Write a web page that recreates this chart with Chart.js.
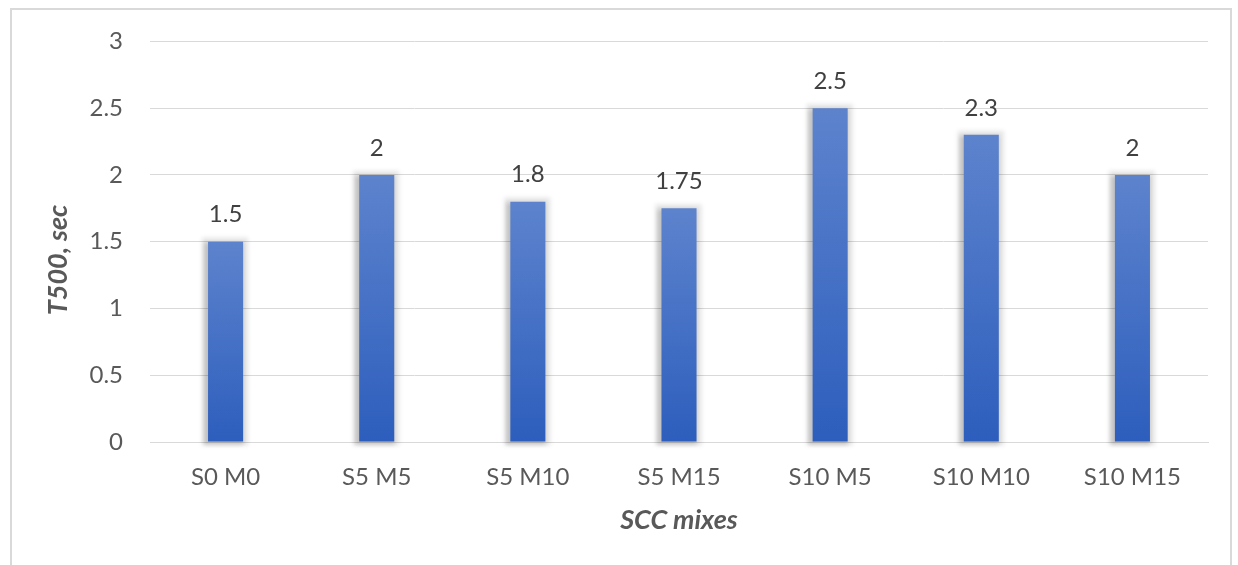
<!DOCTYPE html>
<html lang="en">
<head>
  <meta charset="utf-8" />
  <title>T500 of SCC mixes</title>
  <style>
html, body { margin: 0; padding: 0; background: #fff; }
#frame {
  position: absolute;
  left: 10px;
  top: 8px;
  width: 1222px;
  height: 600px;
  border: 2px solid #d9d9d9;
  box-sizing: border-box;
}
#chartContainer {
  position: absolute;
  left: 0;
  top: 0;
  width: 1238px;
  height: 565px;
}
  </style>
</head>
<body>
  <div id="frame"></div>
  <div id="chartContainer">
    <canvas id="myChart"></canvas>
  </div>
  <script src="https://cdn.jsdelivr.net/npm/chart.js"></script>
  <script>

const mixes = ['S0 M0', 'S5 M5', 'S5 M10', 'S5 M15', 'S10 M5', 'S10 M10', 'S10 M15'];
const t500 = [1.5, 2, 1.8, 1.75, 2.5, 2.3, 2];
const yTicks = [0, 0.5, 1, 1.5, 2, 2.5, 3];
const xTitle = 'SCC mixes';
const yTitle = 'T500, sec';

const FONT = 'Lato, "Open Sans", sans-serif';

// bar fill: lighter blue at the top of each bar, darker at its base
function barGradient(ctx) {
  const chart = ctx.chart;
  if (!chart.chartArea || ctx.raw === undefined) return '#4472c4';
  const ys = chart.scales.y;
  const top = ys.getPixelForValue(ctx.raw);
  const base = ys.getPixelForValue(0);
  const g = chart.ctx.createLinearGradient(0, top, 0, base);
  g.addColorStop(0, '#5d83cd');
  g.addColorStop(1, '#2d5ebd');
  return g;
}

// gray glow behind the bars, heavier on the left
const barShadow = {
  id: 'barShadow',
  beforeDatasetsDraw(chart) {
    const c = chart.ctx;
    const meta = chart.getDatasetMeta(0);
    c.save();
    c.filter = 'blur(2px)';
    meta.data.forEach(bar => {
      const w = bar.width;
      c.fillStyle = 'rgba(0,0,0,0.10)';
      c.fillRect(bar.x - w / 2 - 6, bar.y - 4, w + 11, bar.base - bar.y + 8);
      c.fillStyle = 'rgba(0,0,0,0.16)';
      c.fillRect(bar.x - w / 2 - 4, bar.y + 1, w + 4, bar.base - bar.y + 2);
    });
    c.restore();
  }
};

// value above each bar
const valueLabels = {
  id: 'valueLabels',
  afterDatasetsDraw(chart) {
    const c = chart.ctx;
    const meta = chart.getDatasetMeta(0);
    c.save();
    c.font = '24px ' + FONT;
    c.fillStyle = '#404040';
    c.textAlign = 'center';
    c.textBaseline = 'middle';
    meta.data.forEach((bar, i) => {
      c.fillText(String(t500[i]), bar.x, bar.y - 27);
    });
    c.restore();
  }
};

// axis titles, bold italic
const axisTitles = {
  id: 'axisTitles',
  afterDraw(chart) {
    const c = chart.ctx;
    const area = chart.chartArea;
    c.save();
    c.font = 'italic bold 27px ' + FONT;
    c.fillStyle = '#595959';
    c.textAlign = 'center';
    c.textBaseline = 'middle';
    c.fillText(xTitle, (area.left + area.right) / 2, 520);
    c.translate(58, 260);
    c.rotate(-Math.PI / 2);
    c.fillText(yTitle, 0, 0);
    c.restore();
  }
};

const ctx = document.getElementById('myChart');
const chart = new Chart(ctx, {
  type: 'bar',
  data: {
    labels: mixes,
    datasets: [{
      label: yTitle,
      data: t500,
      backgroundColor: barGradient,
      borderWidth: 0,
      categoryPercentage: 1,
      barPercentage: 0.232,
      clip: 10
    }]
  },
  options: {
    responsive: true,
    maintainAspectRatio: false,
    animation: false,
    layout: {
      padding: { top: 39, right: 30, bottom: 0, left: 0 }
    },
    plugins: {
      legend: { display: false },
      tooltip: { enabled: false }
    },
    scales: {
      x: {
        grid: { display: false, drawTicks: false },
        border: { color: '#d9d9d9', width: 1 },
        ticks: {
          color: '#595959',
          font: { family: FONT, size: 24 },
          padding: 21,
          maxRotation: 0
        },
        afterFit(scale) { scale.height = 123; }
      },
      y: {
        min: 0,
        max: 3,
        grid: { color: '#d9d9d9', lineWidth: 1, drawTicks: false },
        border: { display: false },
        afterBuildTicks(scale) {
          scale.ticks = yTicks.map(v => ({ value: v }));
        },
        ticks: {
          color: '#595959',
          font: { family: FONT, size: 24 },
          padding: 27,
          callback: value => String(value)
        },
        afterFit(scale) { scale.width = 150; }
      }
    }
  },
  plugins: [barShadow, valueLabels, axisTitles]
});

  </script>
</body>
</html>
